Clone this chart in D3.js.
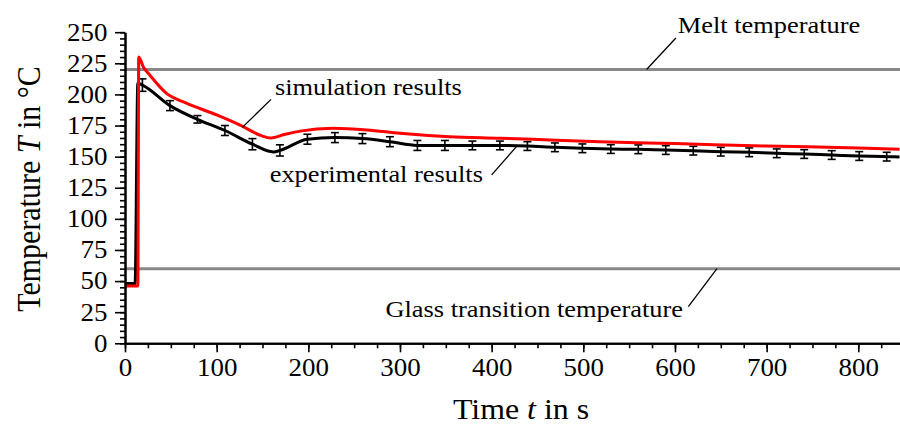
<!DOCTYPE html>
<html>
<head>
<meta charset="utf-8">
<script src="https://cdn.jsdelivr.net/npm/d3@7"></script>
<style>
  html, body { margin: 0; padding: 0; background: #fff; }
  svg { display: block; }
  text { font-family: "Liberation Serif", "Times New Roman", serif; fill: #000; }
</style>
</head>
<body>
<svg id="chart" width="900" height="426"></svg>
<script>
// Simulated temperature curve (t in s, T in °C)
const simTime = [0, 14, 15, 20, 27, 45, 67, 100, 125, 150, 158, 175, 191, 227, 264, 300, 354, 409, 464, 518, 600, 700, 800, 845];
const simTemp = [46, 46, 230, 222, 215.6, 201, 193, 183.5, 175.5, 166.5, 165, 168, 170.5, 172.8, 171.5, 168.8, 166, 164.8, 163.4, 162, 160.5, 158.5, 157, 156];

// Measured temperature curve
const expTime = [0, 11, 14, 19, 49, 79, 109, 139, 162, 169, 199, 229, 259, 289, 319, 349, 379, 409, 439, 469, 499, 530, 560, 590, 620, 650, 681, 711, 741, 771, 801, 831, 845];
const expTemp = [48, 48, 209, 207.5, 191, 180, 171, 160, 153.8, 155, 164, 165.3, 164.5, 162, 159, 159, 159, 159, 158.5, 157.5, 156.7, 156.1, 155.9, 155.3, 154.8, 154, 153.5, 152.7, 152.1, 151.3, 150.5, 150, 149.8];

// Error bars on the measured curve
const barTime = [19, 49, 79, 109, 139, 169, 199, 229, 259, 289, 319, 349, 379, 409, 439, 469, 499, 530, 560, 590, 620, 650, 681, 711, 741, 771, 801, 831];
const barMean = [207.5, 191, 180, 171, 160, 155, 164, 165.3, 164.5, 162, 159, 159, 159, 159, 158.5, 157.5, 156.7, 156.1, 155.9, 155.3, 154.8, 154, 153.5, 152.7, 152.1, 151.3, 150.5, 150];
const barErr  = [5, 4, 3, 4, 4.5, 4.5, 4, 4, 4, 4, 4, 4, 3.5, 3.5, 3.5, 3.5, 3.5, 3.5, 3.5, 3.5, 3.5, 3.5, 3.5, 3.5, 3.5, 3.5, 3.5, 3.5];

// Reference temperatures
const refNames = ["Melt temperature", "Glass transition temperature"];
const refTemps = [220, 60];

// Axis ticks
const xMajor = [0, 100, 200, 300, 400, 500, 600, 700, 800];
const xMinor = d3.range(0, 846, 25);
const yMajor = [0, 25, 50, 75, 100, 125, 150, 175, 200, 225, 250];
const yMinor = d3.range(0, 251, 5);

const svg = d3.select("#chart");
const x = d3.scaleLinear().domain([0, 845.5]).range([125, 900]);
const y = d3.scaleLinear().domain([0, 250]).range([343.3, 32.2]);

const TICK_FONT = 24.5;
const stretch = 1.1;

// reference lines
svg.append("g").selectAll("line").data(refTemps).join("line")
  .attr("x1", x(0)).attr("x2", x(845.5))
  .attr("y1", d => y(d)).attr("y2", d => y(d))
  .attr("stroke", "#888").attr("stroke-width", 3);

// measured curve
const lineExp = d3.line().x(d => x(d[0])).y(d => y(d[1])).curve(d3.curveMonotoneX);
svg.append("path").datum(expTime.map((t, i) => [t, expTemp[i]]))
  .attr("d", lineExp).attr("fill", "none").attr("stroke", "#000").attr("stroke-width", 3)
  .attr("stroke-linejoin", "round");

// error bars
const bars = svg.append("g").attr("stroke", "#000").attr("stroke-width", 1.6);
barTime.forEach((t, i) => {
  const cx = x(t), y0 = y(barMean[i] - barErr[i]), y1 = y(barMean[i] + barErr[i]);
  bars.append("line").attr("x1", cx).attr("x2", cx).attr("y1", y0).attr("y2", y1);
  bars.append("line").attr("x1", cx - 4).attr("x2", cx + 4).attr("y1", y0).attr("y2", y0);
  bars.append("line").attr("x1", cx - 4).attr("x2", cx + 4).attr("y1", y1).attr("y2", y1);
});

// simulated curve
const lineSim = d3.line().x(d => x(d[0])).y(d => y(d[1])).curve(d3.curveMonotoneX);
svg.append("path").datum(simTime.map((t, i) => [t, simTemp[i]]))
  .attr("d", lineSim).attr("fill", "none").attr("stroke", "#f00").attr("stroke-width", 3)
  .attr("stroke-linejoin", "round");

// axes
function styleAxis(g) {
  g.select(".domain").attr("stroke", "#000").attr("stroke-width", 2);
  g.selectAll(".tick line").attr("stroke", "#000").attr("stroke-width", 1.6);
}
const gx = svg.append("g").attr("transform", `translate(0,${y(0)})`);
gx.append("g").call(d3.axisBottom(x).tickValues(xMinor).tickSize(5).tickSizeOuter(0).tickFormat(""))
  .call(styleAxis);
gx.append("g").call(d3.axisBottom(x).tickValues(xMajor).tickSize(9).tickSizeOuter(0).tickPadding(6))
  .call(styleAxis)
  .call(g => g.selectAll("text").attr("font-size", TICK_FONT)
    .attr("font-family", "Liberation Serif").attr("transform", `scale(${stretch},1)`));

const gy = svg.append("g").attr("transform", `translate(${x(0)},0)`);
gy.append("g").call(d3.axisLeft(y).tickValues(yMinor).tickSize(5).tickSizeOuter(0).tickFormat(""))
  .call(styleAxis);
gy.append("g").call(d3.axisLeft(y).tickValues(yMajor).tickSize(10).tickSizeOuter(0).tickPadding(6))
  .call(styleAxis)
  .call(g => g.selectAll("text").attr("font-size", TICK_FONT)
    .attr("font-family", "Liberation Serif").attr("transform", `scale(${stretch},1)`));

// axis titles
const xt = svg.append("text").attr("font-size", 29).attr("text-anchor", "middle")
  .attr("transform", `translate(521,419) scale(${stretch},1)`);
xt.append("tspan").text("Time ");
xt.append("tspan").attr("font-style", "italic").text("t");
xt.append("tspan").text(" in s");

const yt = svg.append("text").attr("font-size", 30).attr("text-anchor", "middle")
  .attr("transform", `translate(40,189) scale(${stretch},1) rotate(-90)`);
yt.append("tspan").text("Temperature ");
yt.append("tspan").attr("font-style", "italic").text("T");
yt.append("tspan").text(" in °C");

// annotations with leader lines
const notes = [
  { text: refNames[0], tx: 603, tT: 249.4, anchor: "start", from: [601, 245.3], to: [569, refTemps[0]] },
  { text: "simulation results", tx: 163.6, tT: 199.5, anchor: "start", from: [159.3, 196], to: [128, 173.5] },
  { text: "experimental results", tx: 390.5, tT: 129.6, anchor: "end", from: [400, 135.3], to: [427.3, 158.3] },
  { text: refNames[1], tx: 608.7, tT: 21.1, anchor: "end", from: [614.6, 29.5], to: [645.8, refTemps[1]] }
];
notes.forEach(n => {
  svg.append("line")
    .attr("x1", x(n.from[0])).attr("y1", y(n.from[1]))
    .attr("x2", x(n.to[0])).attr("y2", y(n.to[1]))
    .attr("stroke", "#000").attr("stroke-width", 1.3);
  svg.append("text").attr("font-size", 24).attr("text-anchor", n.anchor)
    .attr("transform", `translate(${x(n.tx)},${y(n.tT)}) scale(${stretch},1)`)
    .text(n.text);
});
</script>
</body>
</html>
